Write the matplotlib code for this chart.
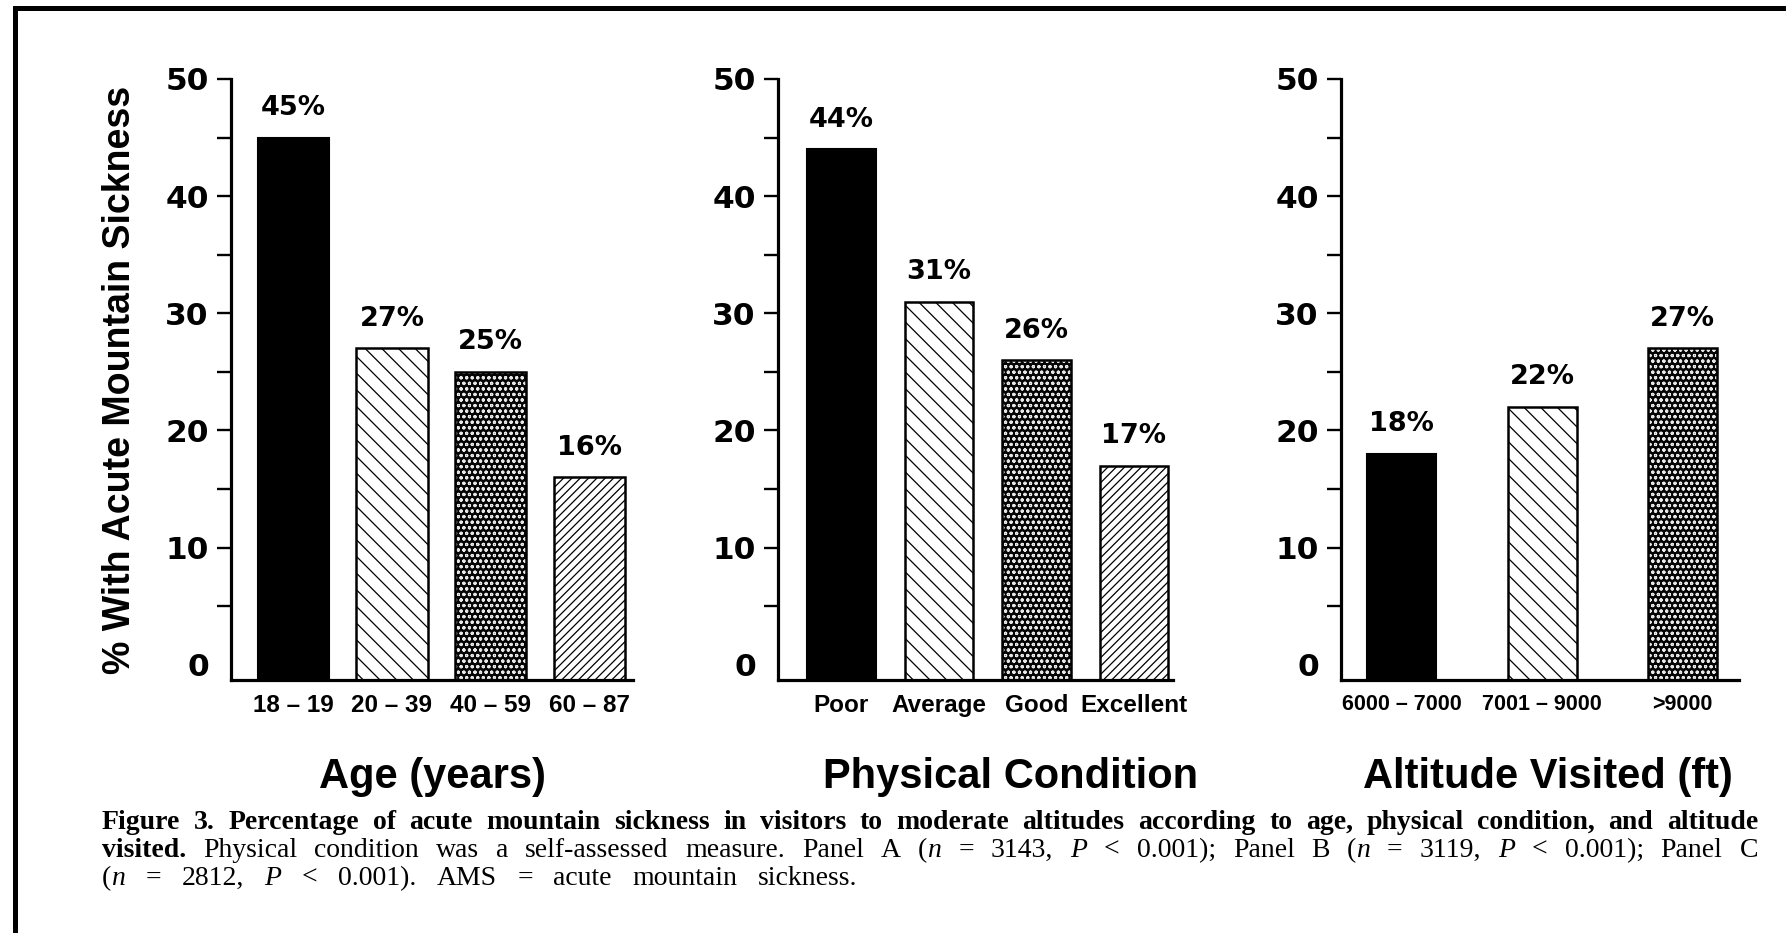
import matplotlib
matplotlib.use("Agg")
import matplotlib.pyplot as plt
from matplotlib import font_manager as fm
from matplotlib.patches import Rectangle

# ---- data -------------------------------------------------------------
age_groups = ["18 – 19", "20 – 39", "40 – 59", "60 – 87"]
age_pct = [45, 27, 25, 16]

condition_groups = ["Poor", "Average", "Good", "Excellent"]
condition_pct = [44, 31, 26, 17]

altitude_groups = ["6000 – 7000", "7001 – 9000", ">9000"]
altitude_pct = [18, 22, 27]

panel_titles = ["Age (years)", "Physical Condition", "Altitude Visited (ft)"]
y_label = "% With Acute Mountain Sickness"

# ---- figure -----------------------------------------------------------
W, H = 1786, 933
fig = plt.figure(figsize=(W / 100, H / 100), dpi=100)
fig.patch.set_facecolor("white")
plt.rcParams["hatch.linewidth"] = 1.0

NUM_FONT = "DejaVu Sans"
LABEL_FONT = "Liberation Sans"
SERIF_FONT = "Liberation Serif"

_names = {f.name for f in fm.fontManager.ttflist}
if "Liberation Sans Narrow" in _names:
    NARROW_FONT, NARROW_SCALE = "Liberation Sans Narrow", 1.2
else:
    NARROW_FONT, NARROW_SCALE = "Liberation Sans", 1.0

Y_BASE = -1.3  # the x-axis line sits a little below the zero tick


def px_axes(left, right, top, bottom):
    return fig.add_axes([left / W, 1 - bottom / H, (right - left) / W, (bottom - top) / H])


def thin_hatch(container, lw):
    for p in container:
        try:
            p.set_hatch_linewidth(lw)
        except AttributeError:
            pass


def draw_bar(ax, x, value, width, style):
    h = value - Y_BASE
    if style == "solid":
        ax.bar(x, h, width, bottom=Y_BASE, color="black", edgecolor="black", linewidth=1.5, zorder=2)
    elif style == "back":
        c = ax.bar(x, h, width, bottom=Y_BASE, color="white", edgecolor="black", hatch="\\\\",
                   linewidth=1.8, zorder=2)
        thin_hatch(c, 0.9)
    elif style == "dots":
        c = ax.bar(x, h, width, bottom=Y_BASE, color="#050505", edgecolor="#e8e8e8", hatch="ooo",
                   linewidth=0, zorder=2)
        thin_hatch(c, 0.8)
        ax.bar(x, h, width, bottom=Y_BASE, fill=False, edgecolor="black", linewidth=1.8, zorder=3)
    elif style == "fine":
        c = ax.bar(x, h, width, bottom=Y_BASE, color="white", edgecolor="black", hatch="////",
                   linewidth=1.8, zorder=2)
        thin_hatch(c, 0.9)


def panel(ax, groups, values, styles, width, xlim, title, title_x, tick_size):
    xs = list(range(len(groups)))
    for x, v, s in zip(xs, values, styles):
        draw_bar(ax, x, v, width, s)
        ax.annotate(f"{v}%", (x, v), xytext=(0, 12), textcoords="offset points",
                    ha="center", va="bottom", fontsize=19.5, fontweight="bold", family=NUM_FONT)
    ax.set_xlim(*xlim)
    ax.set_ylim(Y_BASE, 50)
    for side in ("top", "right"):
        ax.spines[side].set_visible(False)
    for side in ("left", "bottom"):
        ax.spines[side].set_linewidth(2.3)
    ax.set_yticks(range(0, 51, 10))
    ax.set_yticks(range(5, 50, 10), minor=True)
    ax.tick_params(axis="y", which="both", length=10, width=1.7, direction="out", pad=6)
    ax.tick_params(axis="y", which="major", labelsize=22.5)
    for lab in ax.get_yticklabels():
        lab.set_fontweight("bold")
        lab.set_family(NUM_FONT)
    ax.yaxis.get_major_ticks()[0].tick1line.set_visible(False)
    ax.set_xticks(xs)
    ax.set_xticklabels(groups, fontsize=tick_size * NARROW_SCALE, fontweight="bold",
                       family=NARROW_FONT)
    ax.tick_params(axis="x", length=0, pad=10)
    ax.set_xlabel(title, fontsize=30, fontweight="bold", family=LABEL_FONT)
    ax.xaxis.set_label_coords(title_x, -0.128)
    ax.patch.set_alpha(0)


styles4 = ["solid", "back", "dots", "fine"]
styles3 = ["solid", "back", "dots"]

axA = px_axes(231, 633, 79, 680)
panel(axA, age_groups, age_pct, styles4, 0.72, (-0.63, 3.44), panel_titles[0], 0.5, 17.5)

axB = px_axes(778, 1173, 79, 680)
panel(axB, condition_groups, condition_pct, styles4, 0.70, (-0.65, 3.40), panel_titles[1], 0.59, 17.5)

axC = px_axes(1341, 1739, 79, 680)
panel(axC, altitude_groups, altitude_pct, styles3, 0.49, (-0.43, 2.40), panel_titles[2], 0.52, 15.5)

fig.text(120 / W, 1 - 380 / H, y_label, rotation=90, ha="center", va="center",
         fontsize=27, fontweight="bold", family=LABEL_FONT)

# frame around the figure
fig.add_artist(Rectangle((14.5 / W, -0.05), 1.2, 1 - 7.5 / H + 0.05, transform=fig.transFigure,
                         fill=False, edgecolor="black", linewidth=3.6))

# ---- caption ------------------------------------------------------------
CAP_SIZE = 20
STYLE_KW = {"b": {"fontweight": "bold"}, "r": {}, "i": {"fontstyle": "italic"}}

caption_lines = [
    [("Figure 3. Percentage of acute mountain sickness in visitors to moderate altitudes "
      "according to age, physical condition, and altitude", "b")],
    [("visited.", "b"), (" Physical condition was a self-assessed measure. Panel A (", "r"),
     ("n", "i"), (" = 3143, ", "r"), ("P", "i"), (" < 0.001); Panel B (", "r"),
     ("n", "i"), (" = 3119, ", "r"), ("P", "i"), (" < 0.001); Panel C", "r")],
    [("(", "r"), ("n", "i"), (" = 2812, ", "r"), ("P", "i"),
     (" < 0.001). AMS = acute mountain sickness.", "r")],
]
caption_baselines = [829, 857, 885]
caption_right = [1758, 1758, 857]
CAP_X0 = 102


def split_words(segments):
    words = [[]]
    for text, st in segments:
        parts = text.split(" ")
        for i, p in enumerate(parts):
            if i > 0:
                words.append([])
            if p:
                words[-1].append((p, st))
    return [w for w in words if w]


renderer = fig.canvas.get_renderer()


def text_width(t):
    return t.get_window_extent(renderer).width


for segs, base, x1 in zip(caption_lines, caption_baselines, caption_right):
    words = split_words(segs)
    placed = []
    total = 0.0
    for word in words:
        runs = []
        for txt, st in word:
            t = fig.text(0, 0, txt, fontsize=CAP_SIZE, family=SERIF_FONT, va="baseline",
                         **STYLE_KW[st])
            w = text_width(t)
            runs.append((t, w))
            total += w
        placed.append(runs)
    gap = (x1 - CAP_X0 - total) / (len(placed) - 1)
    x = CAP_X0
    for runs in placed:
        for t, w in runs:
            t.set_position((x / W, 1 - base / H))
            x += w
        x += gap

fig.savefig("out.png", dpi=100, facecolor="white")
